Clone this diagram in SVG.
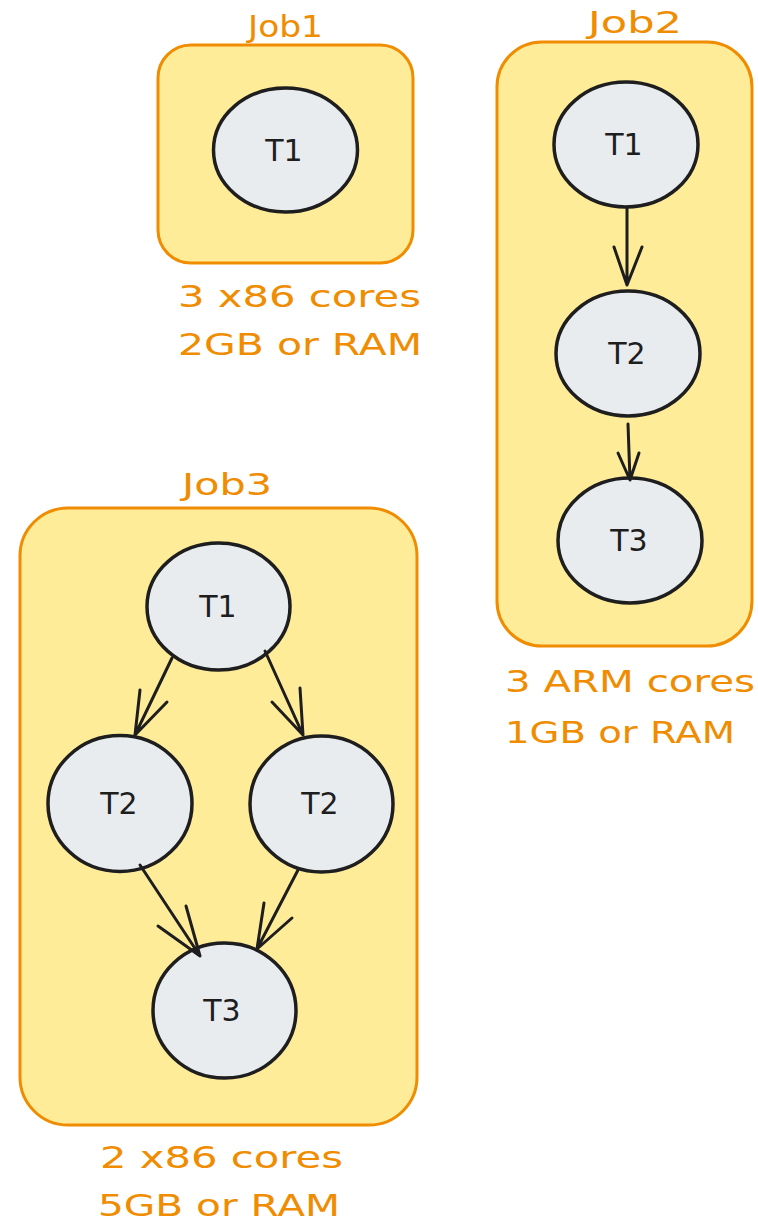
<svg xmlns="http://www.w3.org/2000/svg" width="758" height="1221" viewBox="0 0 758 1221">
  <style>
    .job { fill: #ffec99; stroke: #f08c00; stroke-width: 3; }
    .task { fill: #e9ecef; stroke: #1e1e1e; stroke-width: 3.5; }
    .tlabel { font-family: "DejaVu Sans", "Liberation Sans", sans-serif; font-size: 30px; fill: #1e1e1e; text-anchor: middle; }
    .note { font-family: "DejaVu Sans", "Liberation Sans", sans-serif; font-size: 30px; fill: #f08c00; }
    .title { font-family: "DejaVu Sans", "Liberation Sans", sans-serif; font-size: 31px; fill: #f08c00; }
    .edge { fill: none; stroke: #1e1e1e; stroke-width: 3; stroke-linecap: round; stroke-linejoin: round; }
  </style>
  <rect width="758" height="1221" fill="#ffffff"/>

  <!-- Job 1 -->
  <g id="job1">
    <rect class="job" x="158" y="45" width="255" height="218" rx="33"/>
    <text class="title" x="248" y="37" textLength="75" lengthAdjust="spacingAndGlyphs">Job1</text>
    <text class="note" x="178" y="307" textLength="243" lengthAdjust="spacingAndGlyphs">3 x86 cores</text>
    <text class="note" x="178" y="355" textLength="244" lengthAdjust="spacingAndGlyphs">2GB or RAM</text>
  </g>
  <g id="job1-t1">
    <ellipse class="task" cx="285.5" cy="150" rx="72" ry="62"/>
    <text class="tlabel" x="284" y="161">T1</text>
  </g>

  <!-- Job 2 -->
  <g id="job2">
    <rect class="job" x="497" y="42" width="255" height="604" rx="45"/>
    <text class="title" x="588" y="33" textLength="94" lengthAdjust="spacingAndGlyphs">Job2</text>
    <text class="note" x="505" y="692" textLength="250" lengthAdjust="spacingAndGlyphs">3 ARM cores</text>
    <text class="note" x="505" y="743" textLength="230" lengthAdjust="spacingAndGlyphs">1GB or RAM</text>
  </g>
  <g id="job2-t1">
    <ellipse class="task" cx="626" cy="144.5" rx="72" ry="62.5"/>
    <text class="tlabel" x="624" y="155">T1</text>
  </g>
  <g id="job2-t2">
    <ellipse class="task" cx="628" cy="353.5" rx="72" ry="62.5"/>
    <text class="tlabel" x="627" y="364">T2</text>
  </g>
  <g id="job2-t3">
    <ellipse class="task" cx="630" cy="540.5" rx="72" ry="62.5"/>
    <text class="tlabel" x="629" y="551">T3</text>
  </g>

  <!-- Job 3 -->
  <g id="job3">
    <rect class="job" x="20" y="508" width="397" height="617" rx="48"/>
    <text class="title" x="182" y="495" textLength="90" lengthAdjust="spacingAndGlyphs">Job3</text>
    <text class="note" x="100" y="1168" textLength="243" lengthAdjust="spacingAndGlyphs">2 x86 cores</text>
    <text class="note" x="98" y="1216" textLength="242" lengthAdjust="spacingAndGlyphs">5GB or RAM</text>
  </g>
  <g id="job3-t1">
    <ellipse class="task" cx="218.5" cy="606.5" rx="71.5" ry="63.5"/>
    <text class="tlabel" x="218" y="617">T1</text>
  </g>
  <g id="job3-t2a">
    <ellipse class="task" cx="120" cy="803.5" rx="72" ry="68"/>
    <text class="tlabel" x="119" y="814">T2</text>
  </g>
  <g id="job3-t2b">
    <ellipse class="task" cx="321.5" cy="804" rx="71.5" ry="68"/>
    <text class="tlabel" x="320" y="814">T2</text>
  </g>
  <g id="job3-t3">
    <ellipse class="task" cx="224.5" cy="1010.5" rx="71.5" ry="67.5"/>
    <text class="tlabel" x="222" y="1021">T3</text>
  </g>

  <!-- Connectors -->
  <g id="connectors">
    <path class="edge" d="M627,207 L627,285 M614,247 L627,285 L642,247"/>
    <path class="edge" d="M628,424 L630,480 M618,453 L630,480 L639,453"/>
    <path class="edge" d="M172,658 L135,735 M140,690 L135,735 L167,702"/>
    <path class="edge" d="M265,651 L303,735 M300,688 L303,735 L272,702"/>
    <path class="edge" d="M140,865 L200,956 M158,926 L200,956 L186,906"/>
    <path class="edge" d="M298,870 L257,949 M264,903 L257,949 L292,918"/>
  </g>
</svg>
